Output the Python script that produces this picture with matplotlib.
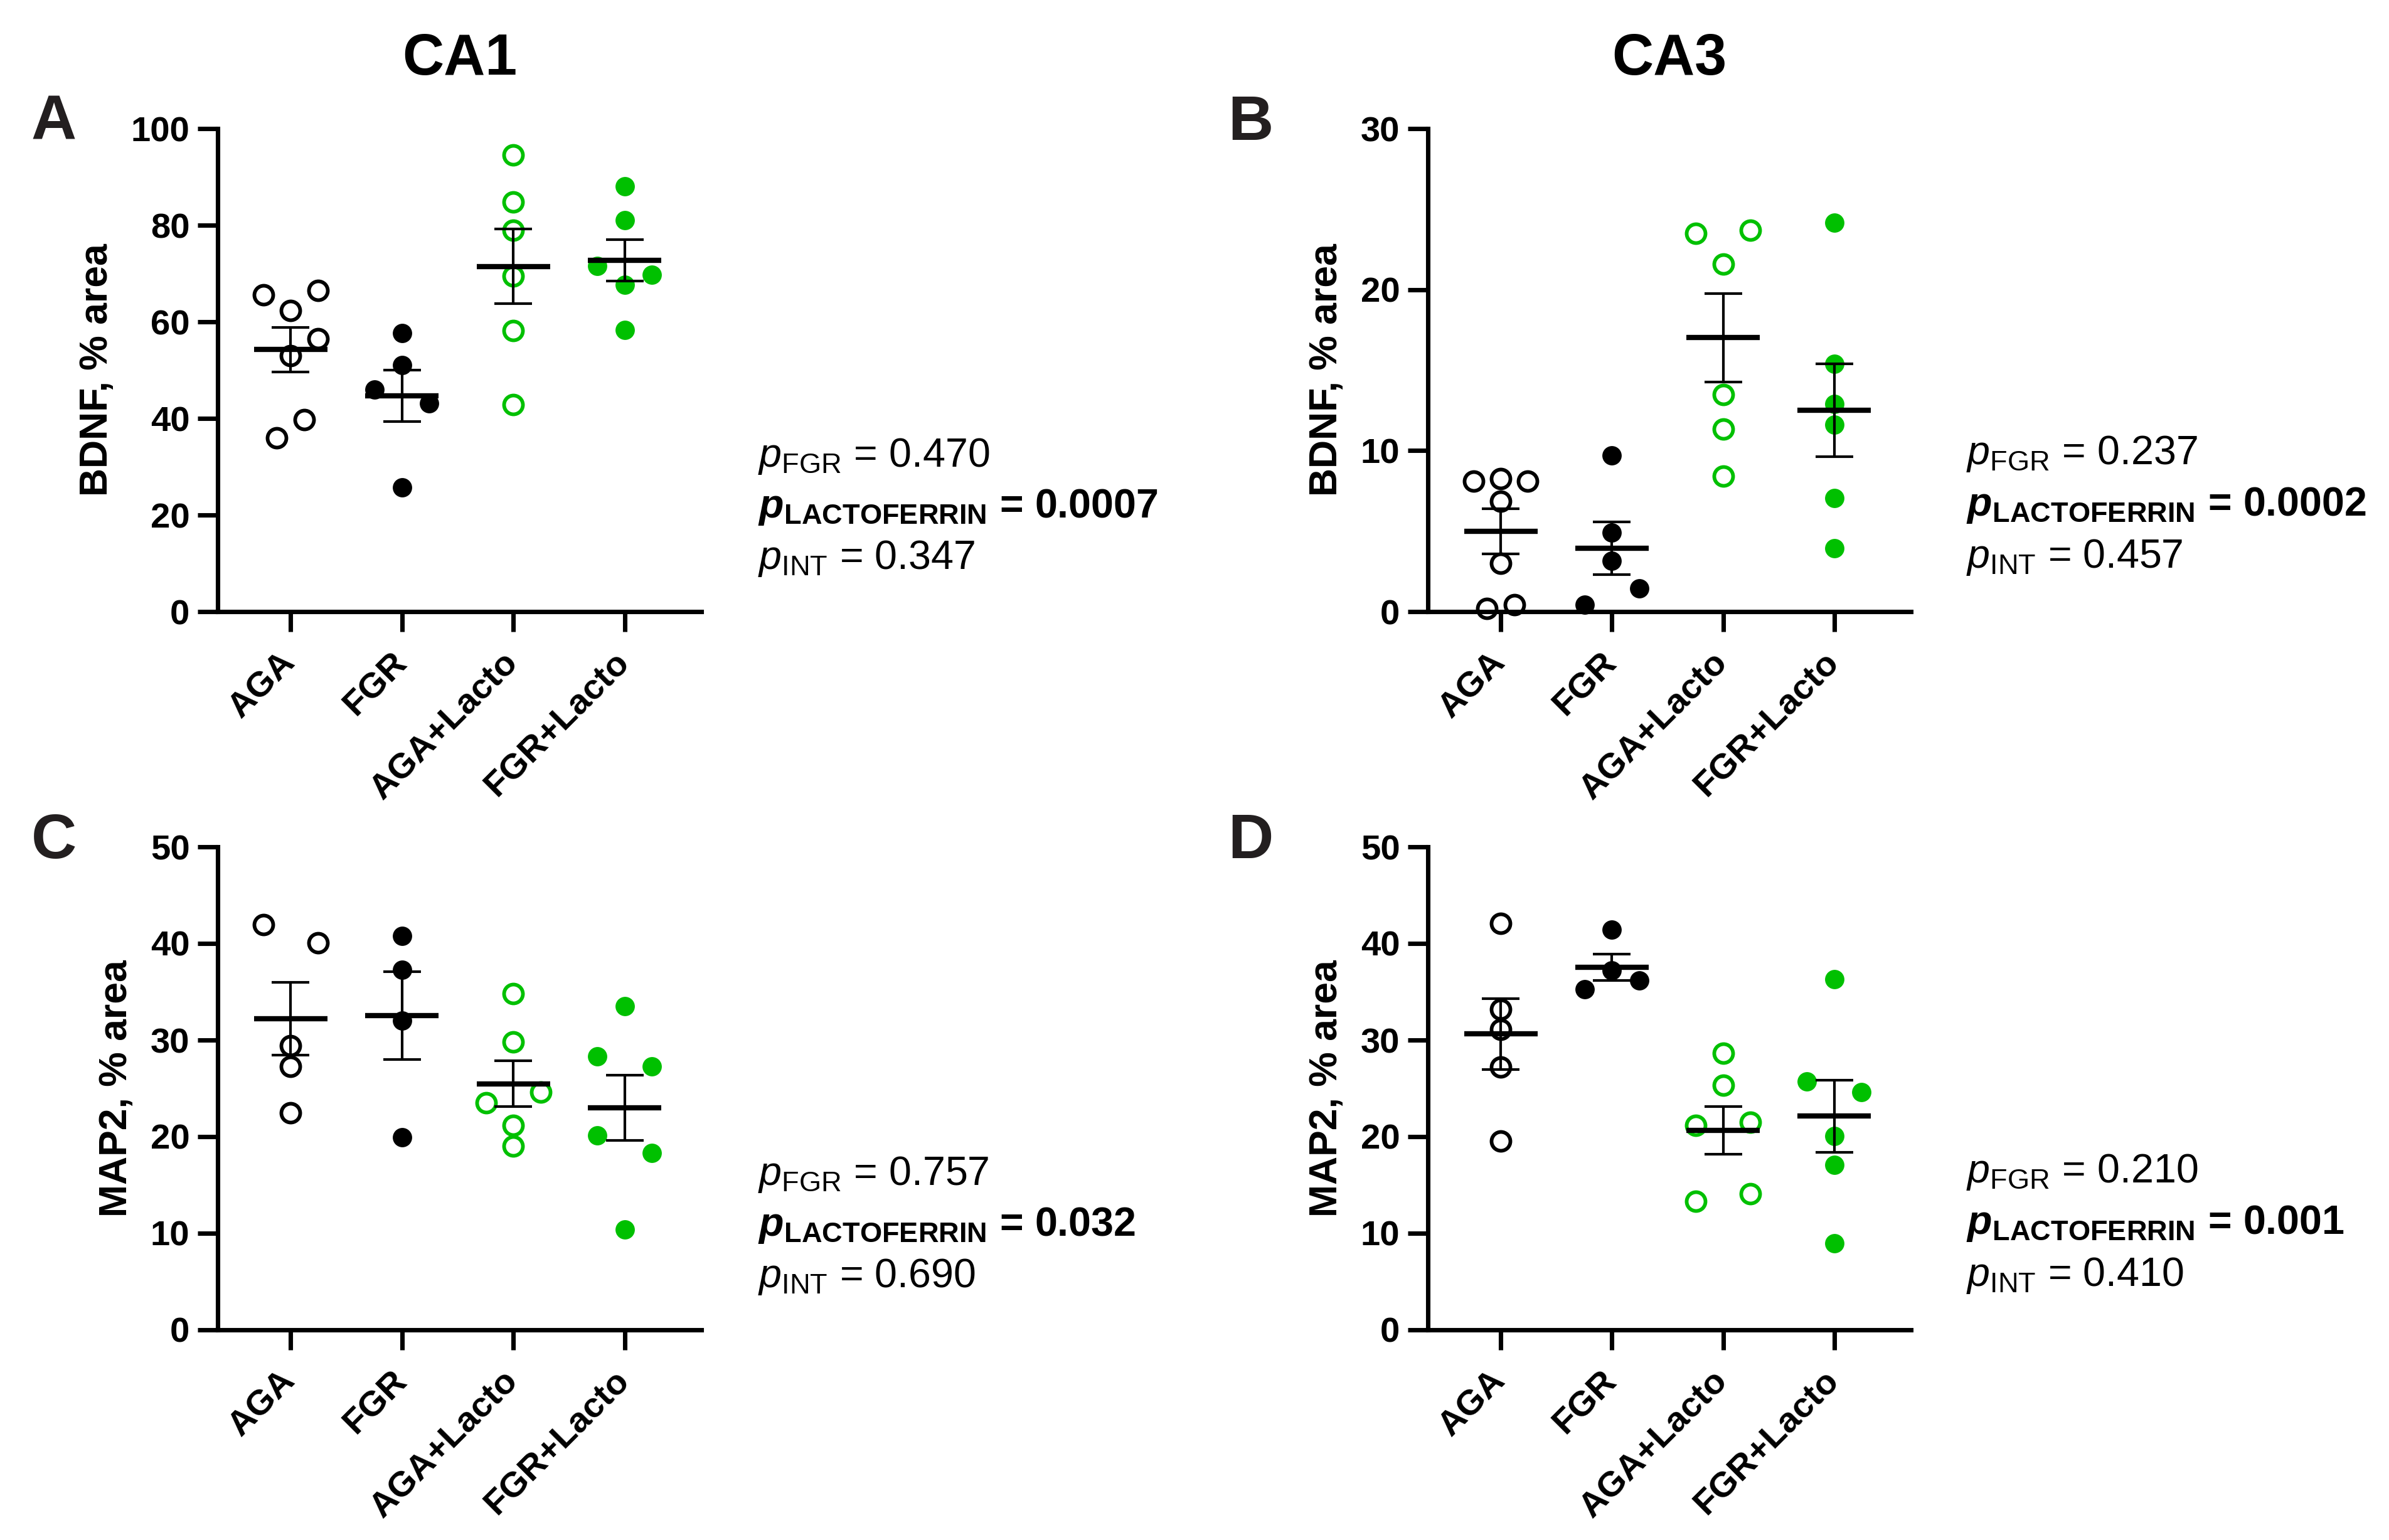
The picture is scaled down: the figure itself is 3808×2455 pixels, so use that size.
import matplotlib
matplotlib.use("Agg")
import matplotlib.pyplot as plt
import numpy as np

plt.rcParams['font.family'] = ['Liberation Sans', 'DejaVu Sans']
plt.rcParams['mathtext.fontset'] = 'custom'
plt.rcParams['mathtext.rm'] = 'Liberation Sans'
plt.rcParams['mathtext.it'] = 'Liberation Sans:italic'
plt.rcParams['mathtext.bf'] = 'Liberation Sans:bold'
try:
    plt.rcParams['mathtext.bfit'] = 'Liberation Sans:bold:italic'
except KeyError:
    pass

# groups shown on every panel
groups = ['AGA', 'FGR', 'AGA+Lacto', 'FGR+Lacto']

# panel A: CA1 BDNF
a_aga = [65.6, 62.4, 66.5, 56.5, 53.0, 36.0, 39.7]
a_fgr = [57.6, 51.0, 46.0, 43.1, 25.7]
a_aga_lacto = [94.6, 84.8, 79.0, 69.5, 58.2, 42.8]
a_fgr_lacto = [88.0, 81.0, 71.5, 69.8, 67.7, 58.3]

# panel B: CA3 BDNF
b_aga = [8.12, 8.26, 8.12, 6.84, 3.0, 0.19, 0.41]
b_fgr = [9.7, 4.92, 3.14, 1.45, 0.41]
b_aga_lacto = [23.5, 23.7, 21.6, 13.5, 11.35, 8.4]
b_fgr_lacto = [24.15, 15.4, 12.9, 11.6, 7.05, 3.94]

# panel C: CA1 MAP2
c_aga = [41.96, 40.07, 29.4, 27.26, 22.5]
c_fgr = [40.8, 37.3, 32.0, 19.96]
c_aga_lacto = [34.8, 29.8, 24.6, 23.5, 21.2, 19.0]
c_fgr_lacto = [33.5, 28.3, 27.3, 20.1, 18.3, 10.4]

# panel D: CA3 MAP2
d_aga = [42.06, 33.2, 31.1, 27.2, 19.56]
d_fgr = [41.4, 37.2, 36.2, 35.25]
d_aga_lacto = [28.65, 25.3, 21.5, 21.2, 14.1, 13.3]
d_fgr_lacto = [36.3, 25.7, 24.6, 20.06, 17.1, 8.94]

# p values (FGR, lactoferrin, interaction)
p_a = ['0.470', '0.0007', '0.347']
p_b = ['0.237', '0.0002', '0.457']
p_c = ['0.757', '0.032', '0.690']
p_d = ['0.210', '0.001', '0.410']

# horizontal scatter slots of the points (GraphPad style spreading)
j_a = [[-2, 0, 2, 2, 0, -1, 1], [0, 0, -2, 2, 0], [0] * 6, [0, 0, -2, 2, 0, 0]]
j_b = [[-2, 0, 2, 0, 0, -1, 1], [0, 0, 0, 2, -2], [-2, 2, 0, 0, 0, 0], [0] * 6]
j_c = [[-2, 2, 0, 0, 0], [0] * 4, [0, 0, 2, -2, 0, 0], [0, -2, 2, -2, 2, 0]]
j_d = [[0] * 5, [0, 0, 2, -2], [0, 0, 2, -2, 2, -2], [0, -2, 2, 0, 0, 0]]

GREEN = '#00c000'
styles = [('black', False), ('black', True), (GREEN, False), (GREEN, True)]

W, H = 3808, 2455
fig = plt.figure(figsize=(W / 300, H / 300), dpi=300)


def px_axes(left, top, right, bottom):
    return fig.add_axes([left / W, 1 - bottom / H, (right - left) / W, (bottom - top) / H])


def draw_panel(ax, data, jit, ymax, ystep, ylabel):
    for i, (vals, jj, (col, filled)) in enumerate(zip(data, jit, styles)):
        xs = i + np.array(jj) * 0.1225
        if filled:
            ax.plot(xs, vals, 'o', ms=7.4, mfc=col, mec=col, mew=0, ls='none',
                    clip_on=False, zorder=2)
        else:
            ax.plot(xs, vals, 'o', ms=7.2, mfc='none', mec=col, mew=1.4, ls='none',
                    clip_on=False, zorder=2)
        m = np.mean(vals)
        sem = np.std(vals, ddof=1) / np.sqrt(len(vals))
        ax.hlines(m, i - 0.33, i + 0.33, color='black', lw=2.0, zorder=3)
        ax.errorbar(i, m, yerr=sem, fmt='none', ecolor='black', elinewidth=1.0,
                    capsize=7.2, capthick=1.0, zorder=3)
    ax.set_xlim(-0.655, 3.69)
    ax.set_ylim(0, ymax)
    ax.set_yticks(np.arange(0, ymax + 0.1, ystep))
    ax.set_xticks(range(len(groups)))
    ax.set_xticklabels(groups, rotation=45, ha='right', va='center',
                       rotation_mode='anchor', fontweight='bold', fontsize=13.5)
    for lab in ax.get_yticklabels():
        lab.set_fontweight('bold')
        lab.set_fontsize(13.5)
    ax.spines['top'].set_visible(False)
    ax.spines['right'].set_visible(False)
    for s in ('left', 'bottom'):
        ax.spines[s].set_linewidth(1.7)
    ax.tick_params(axis='both', width=1.7, length=7.7)
    ax.tick_params(axis='y', pad=3)
    ax.tick_params(axis='x', pad=10)
    ax.set_ylabel(ylabel, fontsize=15, fontweight='bold', labelpad=6)


def p_text(x, ys, vals):
    fig.text(x / W, 1 - ys[0] / H, r'$\mathit{p}_{\mathrm{FGR}}$ = ' + vals[0],
             fontsize=15.5, va='baseline')
    fig.text(x / W, 1 - ys[1] / H, r'$\mathbfit{p}_{\mathbf{LACTOFERRIN}}$ = ' + vals[1],
             fontsize=15.5, fontweight='bold', va='baseline')
    fig.text(x / W, 1 - ys[2] / H, r'$\mathit{p}_{\mathrm{INT}}$ = ' + vals[2],
             fontsize=15.5, va='baseline')


ax_a = px_axes(347, 205, 1118, 975)
ax_b = px_axes(2276, 205, 3046, 975)
ax_c = px_axes(347, 1350, 1118, 2120)
ax_d = px_axes(2276, 1350, 3046, 2120)

draw_panel(ax_a, [a_aga, a_fgr, a_aga_lacto, a_fgr_lacto], j_a, 100, 20, 'BDNF, % area')
draw_panel(ax_b, [b_aga, b_fgr, b_aga_lacto, b_fgr_lacto], j_b, 30, 10, 'BDNF, % area')
draw_panel(ax_c, [c_aga, c_fgr, c_aga_lacto, c_fgr_lacto], j_c, 50, 10, 'MAP2, % area')
draw_panel(ax_d, [d_aga, d_fgr, d_aga_lacto, d_fgr_lacto], j_d, 50, 10, 'MAP2, % area')

# column titles
fig.text(733 / W, 1 - 119 / H, 'CA1', fontsize=22, fontweight='bold', ha='center', va='baseline')
fig.text(2661 / W, 1 - 119 / H, 'CA3', fontsize=22, fontweight='bold', ha='center', va='baseline')

# panel letters
for letter, x, y in [('A', 50, 223), ('B', 1957, 223), ('C', 50, 1368), ('D', 1957, 1368)]:
    fig.text(x / W, 1 - y / H, letter, fontsize=24, fontweight='bold', color='#231f20',
             va='baseline')

p_text(1208, [744, 825, 907], p_a)
p_text(3134, [740, 822, 905], p_b)
p_text(1208, [1889, 1970, 2052], p_c)
p_text(3134, [1885, 1967, 2050], p_d)

fig.savefig('out.png', dpi=300)
